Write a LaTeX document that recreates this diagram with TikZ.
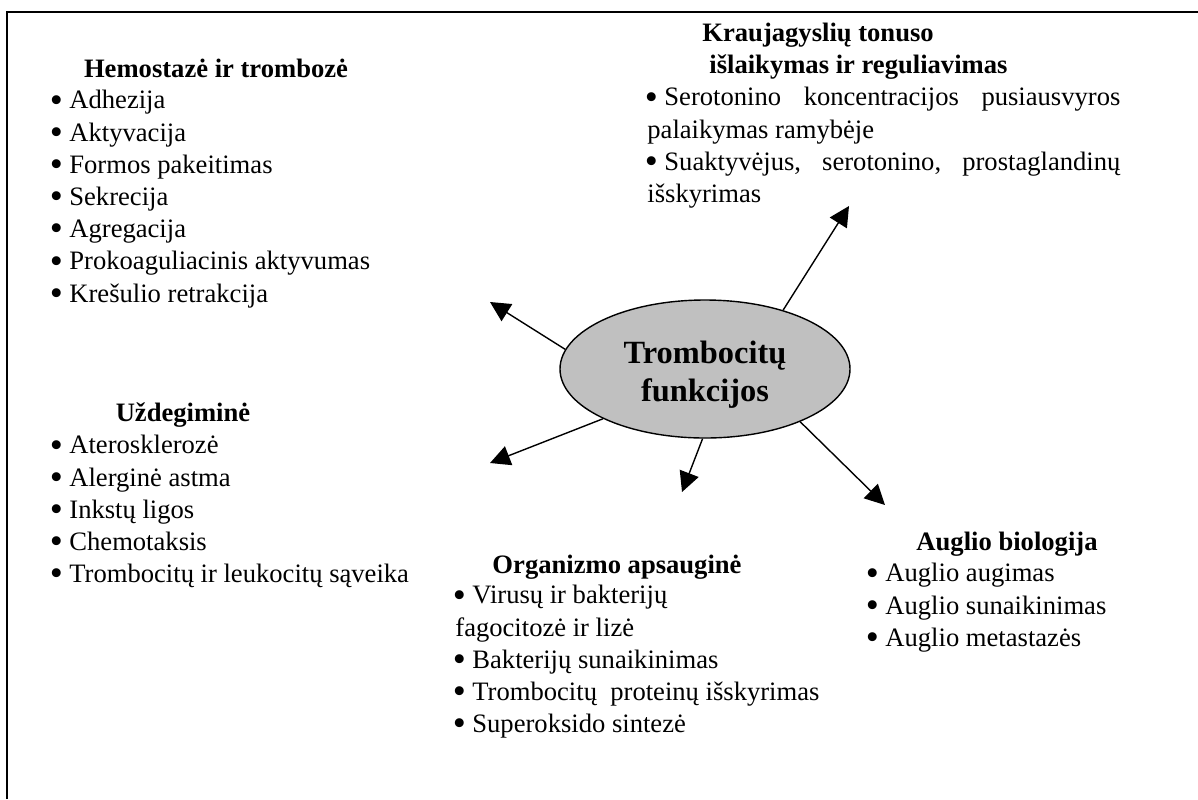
\documentclass[tikz,border=0pt]{standalone}
\usepackage{fontspec}
\setmainfont{Liberation Serif}
\usepackage{graphicx}
\usepackage{tikz}
\usetikzlibrary{positioning}
\usetikzlibrary{arrows.meta}
\usetikzlibrary{shapes.geometric}
\definecolor{plateletgray}{RGB}{192,192,192}
\newcommand{\bul}{\makebox[8.5pt][l]{\hspace{-1.3pt}\raisebox{-0.12em}{\scalebox{1.4}{\textbullet}}}}

\begin{document}
\begin{tikzpicture}[x=0.5pt,y=-0.5pt,
    heading/.style={font=\fontsize{13.3}{16.1}\selectfont\bfseries, inner sep=0pt},
    itemlist/.style={font=\fontsize{13.3}{16.1}\selectfont, align=left, inner sep=0pt, anchor=north west},
    arr/.style={-{Triangle[length=10pt,width=10pt]}, line width=0.7pt}]
    \useasboundingbox (0,0) rectangle (1198,799);
    \draw[line width=1pt] (7,799) -- (7,12) -- (1198,12);

    % centre
    \node[ellipse, draw, line width=0.7pt, fill=plateletgray, inner sep=0pt,
          minimum width=145pt, minimum height=69pt] (func) at (705,369) {};
    \node[align=center, font=\fontsize{16.2}{19}\selectfont\bfseries] (functext) at (705,375) {Trombocitų\\funkcijos};

    % hemostaze
    \node[heading, anchor=base] (hemohead) at (216,77) {Hemostazė ir trombozė};
    \node[itemlist] (hemoitems) at (52,90) {\bul Adhezija\\ \bul Aktyvacija\\ \bul Formos pakeitimas\\
        \bul Sekrecija\\ \bul Agregacija\\ \bul Prokoaguliacinis aktyvumas\\ \bul Krešulio retrakcija};

    % uzdegimine
    \node[heading, anchor=base] (inflhead) at (183,421) {Uždegiminė};
    \node[itemlist] (inflitems) at (52,435) {\bul Aterosklerozė\\ \bul Alerginė astma\\ \bul Inkstų ligos\\
        \bul Chemotaksis\\ \bul Trombocitų ir leukocitų sąveika};

    % kraujagysliu tonusas
    \node[heading, anchor=base west] (vesselhead) at (702,41) {Kraujagyslių tonuso};
    \node[heading, anchor=base west] (vesselhead2) at (709,73) {išlaikymas ir reguliavimas};
    \node[itemlist] (vesselitems) at (647,87) {\makebox[236.5pt][s]{\bul Serotonino koncentracijos pusiausvyros}\\
        palaikymas ramybėje\\ \makebox[236.5pt][s]{\bul Suaktyvėjus, serotonino, prostaglandinų}\\ išskyrimas};

    % organizmo apsaugine
    \node[heading, anchor=base] (defhead) at (617,573) {Organizmo apsauginė};
    \node[itemlist] (defitems) at (455,585) {\bul Virusų ir bakterijų\\ fagocitozė ir lizė\\ \bul Bakterijų sunaikinimas\\
        \bul Trombocitų\ \ proteinų išskyrimas\\ \bul Superoksido sintezė};

    % auglio biologija
    \node[heading, anchor=base] (tumhead) at (1007,550) {Auglio biologija};
    \node[itemlist] (tumitems) at (868,563) {\bul Auglio augimas\\ \bul Auglio sunaikinimas\\ \bul Auglio metastazės};

    % arrows
    \coordinate (tipvessel) at (849,206);
    \coordinate (tiphemo) at (490,302);
    \coordinate (tipinfl) at (490,463);
    \coordinate (tipdef) at (682,492);
    \coordinate (tiptum) at (885,505);
    \draw[arr] (func.37) -- (tipvessel);
    \draw[arr] (func.172) -- (tiphemo);
    \draw[arr] (func.206) -- (tipinfl);
    \draw[arr] (func.268) -- (tipdef);
    \draw[arr] (func.331) -- (tiptum);
\end{tikzpicture}
\end{document}
